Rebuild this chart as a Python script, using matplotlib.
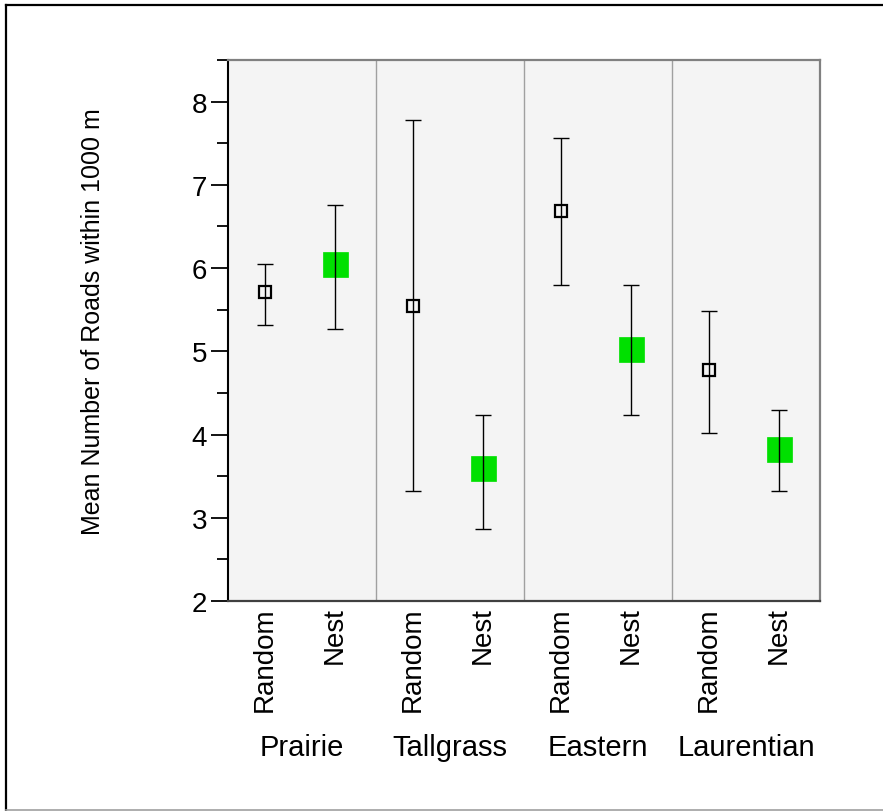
import matplotlib.pyplot as plt
import matplotlib.transforms as mtransforms
from matplotlib.lines import Line2D

plt.rcParams['font.family'] = ['Liberation Sans', 'DejaVu Sans']

# Mean roads within 1000 m, random points vs nests, per region
regions = ['Prairie', 'Tallgrass', 'Eastern', 'Laurentian']
site_types = ['Random', 'Nest']

random_mean = [5.71, 5.55, 6.68, 4.77]
random_low = [5.32, 3.32, 5.80, 4.02]
random_high = [6.05, 7.78, 7.56, 5.48]

nest_mean = [6.05, 3.60, 5.03, 3.83]
nest_low = [5.27, 2.86, 4.24, 3.32]
nest_high = [6.76, 4.24, 5.80, 4.30]

yticks = [2, 3, 4, 5, 6, 7, 8]

OFFSETS = {'Random': 0.25, 'Nest': 0.72}
GREEN = '#00e000'
FONT_SIZE = 20

fig = plt.figure(figsize=(8.83, 8.12), dpi=100)
ax = fig.add_axes([228 / 883, 1 - 602 / 812, (820 - 228) / 883, (602 - 61) / 812])
ax.set_facecolor('#f4f4f4')

x_random = [i + OFFSETS['Random'] for i in range(len(regions))]
x_nest = [i + OFFSETS['Nest'] for i in range(len(regions))]

# error bars drawn over the markers
ax.errorbar(x_random, random_mean,
            yerr=[[m - lo for m, lo in zip(random_mean, random_low)],
                  [hi - m for m, hi in zip(random_mean, random_high)]],
            fmt='none', ecolor='black', elinewidth=1, capsize=5.5, capthick=1, zorder=4)
ax.errorbar(x_nest, nest_mean,
            yerr=[[m - lo for m, lo in zip(nest_mean, nest_low)],
                  [hi - m for m, hi in zip(nest_mean, nest_high)]],
            fmt='none', ecolor='black', elinewidth=1, capsize=5.5, capthick=1, zorder=4)

ax.plot(x_random, random_mean, 's', ms=8.5, mfc='none', mec='black', mew=1.6,
        linestyle='none', zorder=3)
ax.plot(x_nest, nest_mean, 's', ms=18, mfc=GREEN, mec=GREEN, mew=0.5,
        linestyle='none', zorder=3)

# region separators
for i in range(1, len(regions)):
    ax.axvline(i, color='#a0a0a0', lw=1, zorder=1)

ax.set_xlim(0, len(regions))
ax.set_ylim(2, 8.5)
ax.set_yticks(yticks)
ax.set_yticks([v + 0.5 for v in yticks], minor=True)
ax.tick_params(axis='y', which='major', length=12, width=1.3, labelsize=FONT_SIZE, pad=3,
               color='black')
ax.tick_params(axis='y', which='minor', length=8, width=1.3, color='black')

ax.set_xticks(sorted(x_random + x_nest))
ax.set_xticklabels([t for _ in regions for t in site_types], rotation=90,
                   fontsize=FONT_SIZE, va='top', ha='center')
ax.tick_params(axis='x', length=0, pad=4)

ax.spines['left'].set_color('black')
ax.spines['left'].set_linewidth(1.5)
for side in ['top', 'right']:
    ax.spines[side].set_color('#808080')
    ax.spines[side].set_linewidth(1.6)
ax.spines['bottom'].set_color('#404040')
ax.spines['bottom'].set_linewidth(1.6)

# region names under the tick labels
trans = mtransforms.blended_transform_factory(ax.transData, fig.transFigure)
for i, name in enumerate(regions):
    ax.text(i + 0.5, 1 - 748 / 812, name, transform=trans, ha='center', va='center',
            fontsize=21, clip_on=False)

fig.text(93 / 883, 1 - 322 / 812, 'Mean Number of Roads within 1000 m',
         rotation=90, ha='center', va='center', fontsize=18)

# outer frame
fig.add_artist(Line2D([6 / 883, 6 / 883], [1 - 6 / 812, 0], color='black', lw=1.6,
                      transform=fig.transFigure))
fig.add_artist(Line2D([6 / 883, 1], [1 - 6 / 812, 1 - 6 / 812], color='black', lw=1.6,
                      transform=fig.transFigure))
fig.add_artist(Line2D([6 / 883, 1], [1 - 811 / 812, 1 - 811 / 812], color='#a0a0a0', lw=1.2,
                      transform=fig.transFigure))

fig.savefig('out.png', dpi=100)
